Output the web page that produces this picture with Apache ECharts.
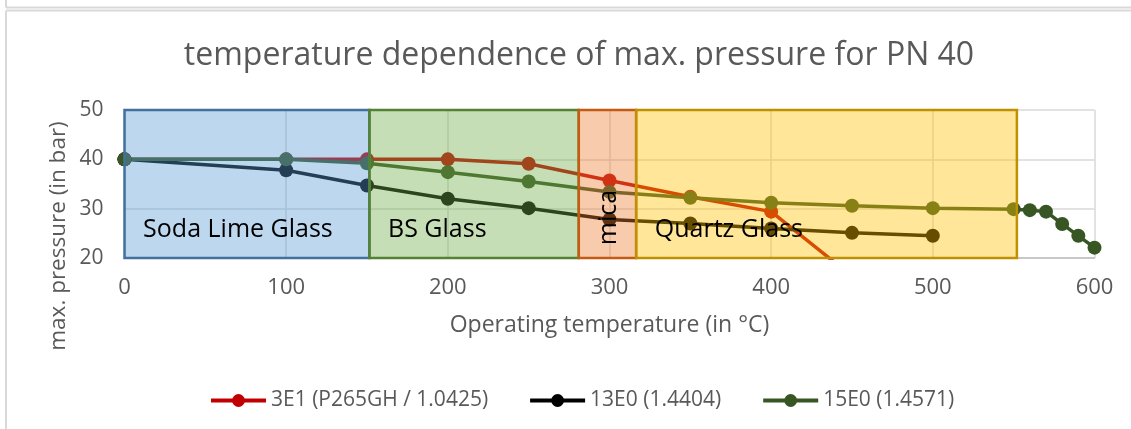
<!DOCTYPE html>
<html>
<head>
<meta charset="utf-8">
<script src="https://cdn.jsdelivr.net/npm/echarts@6/dist/echarts.min.js"></script>
<style>
html,body{margin:0;padding:0;background:#fff;}
#chart{width:1131px;height:429px;}
</style>
</head>
<body>
<div id="chart"></div>
<script>
// ---- data ----
const titleText = 'temperature dependence of max. pressure for PN 40';
const xAxisTitle = 'Operating temperature (in °C)';
const yAxisTitle = 'max. pressure (in bar)';
const seriesNames = ['3E1 (P265GH / 1.0425)', '13E0 (1.4404)', '15E0 (1.4571)'];

const redX = [0, 100, 150, 200, 250, 300, 350, 400, 450];
const redY = [40, 40, 40, 40, 39.1, 35.7, 32.4, 29.4, 16.3];

const blackX = [0, 100, 150, 200, 250, 300, 350, 400, 450, 500];
const blackY = [40, 37.8, 34.7, 32.0, 30.1, 27.8, 27.0, 26.0, 25.1, 24.5];

const greenX = [0, 100, 150, 200, 250, 300, 350, 400, 450, 500, 550, 560, 570, 580, 590, 600];
const greenY = [40, 40, 39.2, 37.4, 35.5, 33.4, 32.2, 31.2, 30.6, 30.1, 29.9, 29.7, 29.4, 26.9, 24.5, 22.1];

const regionNames = ['Soda Lime Glass', 'BS Glass', 'mica', 'Quartz Glass'];
const regionFrom = [0, 151.5, 281, 316.5];
const regionTo = [151.5, 281, 316.5, 552];
const regionYFrom = 20, regionYTo = 50;

const xTicks = { min: 0, max: 600, step: 100 };
const yTicks = { min: 20, max: 50, step: 10 };

// ---- styles ----
const FONT = 'Open Sans';
const lineColors = ['#c00000', '#000000', '#375623'];
const regionFill = ['rgba(91,155,213,0.4)', 'rgba(112,173,71,0.4)', 'rgba(237,125,49,0.4)', 'rgba(255,192,0,0.4)'];
const regionBorder = ['#41719c', '#548235', '#c55a11', '#bf9000'];

function pairs(xs, ys) { return xs.map((x, i) => [x, ys[i]]); }

const chart = echarts.init(document.getElementById('chart'), null, { renderer: 'canvas' });

const lineSeries = [[redX, redY], [blackX, blackY], [greenX, greenY]].map((d, i) => ({
  name: seriesNames[i],
  type: 'line',
  data: pairs(d[0], d[1]),
  symbol: 'circle',
  symbolSize: 14,
  showSymbol: true,
  clip: true,
  z: 2,
  itemStyle: { color: lineColors[i] },
  lineStyle: { color: lineColors[i], width: 3.5 },
  emphasis: { disabled: true },
  animation: false
}));

// translucent region boxes drawn above the lines (as in the original)
const areaSeries = {
  name: 'regions',
  type: 'custom',
  z: 5,
  silent: true,
  animation: false,
  clip: false,
  data: regionNames.map((n, i) => [regionFrom[i], regionTo[i], regionYFrom, regionYTo, i]),
  renderItem: function (params, api) {
    const p0 = api.coord([api.value(0), api.value(3)]);
    const p1 = api.coord([api.value(1), api.value(2)]);
    const idx = api.value(4);
    return {
      type: 'rect',
      shape: { x: p0[0], y: p0[1], width: p1[0] - p0[0], height: p1[1] - p0[1] },
      style: { fill: regionFill[idx], stroke: regionBorder[idx], lineWidth: 2.5 }
    };
  }
};

chart.setOption({
  animation: false,
  title: {
    text: titleText,
    left: 574,
    textAlign: 'center',
    top: 35,
    textStyle: { fontFamily: FONT, fontSize: 32, fontWeight: 'normal', color: '#595959' }
  },
  legend: {
    data: seriesNames,
    left: 204,
    top: 385,
    itemWidth: 55,
    itemHeight: 16,
    itemGap: 40,
    textStyle: { fontFamily: FONT, fontSize: 21, color: '#595959' },
    lineStyle: { width: 4 }
  },
  grid: { left: 124.5, right: 36.5, top: 110, bottom: 171, containLabel: false },
  xAxis: {
    type: 'value',
    min: xTicks.min, max: xTicks.max, interval: xTicks.step,
    name: xAxisTitle,
    nameLocation: 'middle',
    nameGap: 56,
    nameTextStyle: { fontFamily: FONT, fontSize: 23, color: '#595959', verticalAlign: 'top' },
    axisLine: { show: true, lineStyle: { color: '#bfbfbf', width: 1.5 } },
    axisTick: { show: false },
    axisLabel: { margin: 19, fontFamily: FONT, fontSize: 22, color: '#595959' },
    splitLine: { show: true, lineStyle: { color: '#d9d9d9', width: 1.5 } }
  },
  yAxis: {
    type: 'value',
    min: yTicks.min, max: yTicks.max, interval: yTicks.step,
    axisLine: { show: false },
    axisTick: { show: false },
    axisLabel: { margin: 21, fontFamily: FONT, fontSize: 21, color: '#595959' },
    splitLine: { show: true, lineStyle: { color: '#d9d9d9', width: 1.5 } }
  },
  series: lineSeries.concat([areaSeries])
});

// frame lines + annotations
function addGraphics() {
  const g = [
    { type: 'line', shape: { x1: 6, y1: 0, x2: 6, y2: 7.5 }, style: { stroke: '#d9d9d9', lineWidth: 2 }, silent: true },
    { type: 'line', shape: { x1: 6, y1: 7.5, x2: 1131, y2: 7.5 }, style: { stroke: '#d9d9d9', lineWidth: 2 }, silent: true },
    { type: 'line', shape: { x1: 6, y1: 10.5, x2: 1131, y2: 10.5 }, style: { stroke: '#d9d9d9', lineWidth: 2 }, silent: true },
    { type: 'line', shape: { x1: 6, y1: 10.5, x2: 6, y2: 429 }, style: { stroke: '#d9d9d9', lineWidth: 2 }, silent: true },
    { type: 'text', x: 59, y: 236, rotation: Math.PI / 2,
      style: { text: yAxisTitle, font: '22.5px "' + FONT + '"', fill: '#595959', align: 'center', verticalAlign: 'middle' }, silent: true }
  ];
  // region labels placed from data coordinates
  const labelY = 25.8;
  regionNames.forEach((n, i) => {
    if (n === 'mica') {
      const p = chart.convertToPixel({ gridIndex: 0 }, [299.5, 28.2]);
      g.push({ type: 'text', x: p[0], y: p[1], rotation: Math.PI / 2, z: 100,
        style: { text: n, font: '25px "' + FONT + '"', fill: '#000', align: 'center', verticalAlign: 'middle' }, silent: true });
    } else {
      const p = chart.convertToPixel({ gridIndex: 0 }, [regionFrom[i] + 11.5, labelY]);
      g.push({ type: 'text', x: p[0], y: p[1], z: 100,
        style: { text: n, font: '25px "' + FONT + '"', fill: '#000', align: 'left', verticalAlign: 'middle' }, silent: true });
    }
  });
  chart.setOption({ graphic: g });
}
addGraphics();
</script>
</body>
</html>
